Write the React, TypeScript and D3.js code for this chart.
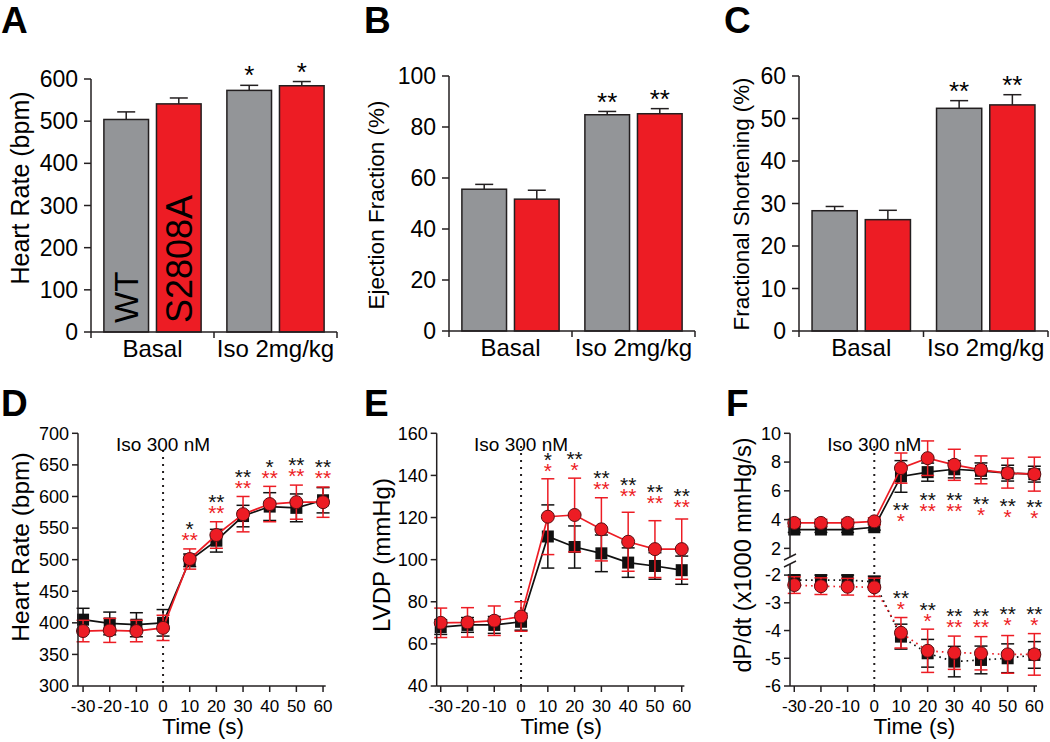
import React from 'react';
import * as d3 from 'd3';

const FONT = '"Liberation Sans", Arial, Helvetica, sans-serif';
const GRAY = '#939598';
const RED = '#ed1c24';
const INK = '#231f20';

// ---------- Bar panels (A, B, C) ----------
const barGroups = ['Basal', 'Iso 2mg/kg'];
const barSeries = ['WT', 'S2808A'];

const hrTicks = [0, 100, 200, 300, 400, 500, 600];
const hrWT = [504, 573];
const hrWTErr = [18, 12];
const hrKI = [541, 584];
const hrKIErr = [14, 10];
const hrStars = ['', '*'];

const efTicks = [0, 20, 40, 60, 80, 100];
const efWT = [55.6, 84.8];
const efWTErr = [1.9, 1.3];
const efKI = [51.7, 85.2];
const efKIErr = [3.5, 2.0];
const efStars = ['', '**'];

const fsTicks = [0, 10, 20, 30, 40, 50, 60];
const fsWT = [28.3, 52.4];
const fsWTErr = [1.0, 1.8];
const fsKI = [26.2, 53.2];
const fsKIErr = [2.2, 2.4];
const fsStars = ['', '**'];

// ---------- Time course panels (D, E, F) ----------
const timePoints = [-30, -20, -10, 0, 10, 20, 30, 40, 50, 60];

const dTicks = [300, 350, 400, 450, 500, 550, 600, 650, 700];
const dWT = [405, 399, 397, 400, 499, 530, 569, 584, 582, 594];
const dWTErr = [18, 18, 19, 21, 10, 18, 17, 22, 22, 20];
const dKI = [387, 388, 387, 392, 501, 539, 572, 588, 591, 591];
const dKIErr = [17, 19, 17, 20, 16, 21, 28, 28, 27, 24];
const dWTStars = ['', '', '', '', '*', '**', '**', '*', '**', '**'];
const dKIStars = ['', '', '', '', '**', '**', '**', '**', '**', '**'];
const dStarRow = [0, 0, 0, 0, 539, 582, 621, 637, 640, 638];

const eTicks = [40, 60, 80, 100, 120, 140, 160];
const eWT = [68, 69, 69, 70.5, 111, 106, 103, 98.6, 97, 95];
const eWTErr = [3.5, 3.5, 4, 4, 15, 10, 8.7, 7, 6.3, 6.7];
const eKI = [70, 70.2, 71, 73, 120.4, 121.2, 114.4, 108.5, 105, 105];
const eKIErr = [7, 7, 7, 7, 18, 17.5, 15, 14, 13.5, 14.3];
const eWTStars = ['', '', '', '', '*', '**', '**', '**', '**', '**'];
const eKIStars = ['', '', '', '', '*', '*', '**', '**', '**', '**'];
const eStarRow = [0, 0, 0, 0, 144.5, 145, 136, 132.6, 129.3, 127.4];

const fUpperTicks = [2, 4, 6, 8, 10];
const fLowerTicks = [-6, -5, -4, -3, -2];
const fUpWT = [3.31, 3.31, 3.31, 3.47, 7.0, 7.3, 7.5, 7.39, 7.23, 7.16];
const fUpWTErr = [0.2, 0.2, 0.2, 0.2, 1.1, 0.63, 0.6, 0.55, 0.55, 0.55];
const fUpKI = [3.77, 3.77, 3.77, 3.88, 7.58, 8.27, 7.81, 7.46, 7.23, 7.16];
const fUpKIErr = [0.25, 0.25, 0.25, 0.25, 1.05, 1.2, 1.08, 0.97, 1.04, 1.18];
const fLoWT = [-2.18, -2.18, -2.18, -2.24, -4.22, -4.82, -5.12, -5.06, -5.0, -4.88];
const fLoWTErr = [0.18, 0.18, 0.18, 0.2, 0.45, 0.5, 0.55, 0.5, 0.52, 0.48];
const fLoKI = [-2.36, -2.4, -2.42, -2.44, -4.08, -4.73, -4.8, -4.82, -4.86, -4.86];
const fLoKIErr = [0.3, 0.3, 0.3, 0.33, 0.55, 0.78, 0.6, 0.6, 0.68, 0.75];
const fUpWTStars = ['', '', '', '', '**', '**', '**', '**', '**', '**'];
const fUpKIStars = ['', '', '', '', '*', '**', '**', '*', '*', '*'];
const fUpStarRow = [0, 0, 0, 0, 4.23, 4.99, 4.99, 4.69, 4.53, 4.46];
const fLoWTStars = ['', '', '', '', '**', '**', '**', '**', '**', '**'];
const fLoKIStars = ['', '', '', '', '*', '*', '**', '**', '*', '*'];
const fLoStarRow = [0, 0, 0, 0, -3.05, -3.48, -3.7, -3.7, -3.62, -3.6];

// ---------- helpers ----------
function Letter({ x, y, t }: any) {
  return (
    <text x={x} y={y} fontFamily={FONT} fontWeight="bold" fontSize={37} fill="#000">
      {t}
    </text>
  );
}

function YLabel({ cx, cy, fs, t }: any) {
  return (
    <text
      transform={`translate(${cx + 0.33 * fs},${cy}) rotate(-90)`}
      textAnchor="middle"
      fontFamily={FONT}
      fontSize={fs}
      fill="#000"
    >
      {t}
    </text>
  );
}

function Star({ x, cy, t, color, fs }: any) {
  if (!t) return null;
  return (
    <text x={x} y={cy + 0.58 * fs} textAnchor="middle" fontFamily={FONT} fontSize={fs} fill={color}>
      {t}
    </text>
  );
}

function BarPanel(p: any) {
  const gx = d3.scaleBand<string>().domain(barGroups).range([p.x0, p.x1]).paddingInner(0).paddingOuter(0);
  const sx = d3
    .scaleBand<string>()
    .domain(barSeries)
    .range([0, gx.bandwidth()])
    .paddingInner(0.151)
    .paddingOuter(0.245);
  const y = d3.scaleLinear().domain([0, p.maxV]).range([p.yBase, p.yTop]);
  const series = [
    { name: 'WT', vals: p.wt, errs: p.wtErr, fill: GRAY, fs: 33 },
    { name: 'S2808A', vals: p.ki, errs: p.kiErr, fill: RED, fs: 36 },
  ];
  const bw = sx.bandwidth();
  return (
    <g>
      <Letter x={p.letterX} y={33} t={p.letter} />
      <YLabel cx={p.labelCx} cy={p.labelCy} fs={p.labelFs} t={p.yLabel} />
      {barGroups.map((g, gi) =>
        series.map((s) => {
          const bx = (gx(g) as number) + (sx(s.name) as number);
          const v = s.vals[gi];
          const top = y(v + s.errs[gi]);
          const cx = bx + bw / 2;
          return (
            <g key={g + s.name}>
              <line x1={cx} x2={cx} y1={y(v)} y2={top} stroke={INK} strokeWidth={1.5} />
              <line x1={cx - 9} x2={cx + 9} y1={top} y2={top} stroke={INK} strokeWidth={1.5} />
              <rect x={bx} y={y(v)} width={bw} height={y(0) - y(v)} fill={s.fill} stroke={INK} strokeWidth={1.5} />
              <Star x={cx} cy={top - 16} t={p.stars[gi]} color="#000" fs={26} />
              {p.inside && gi === 0 ? (
                <text
                  transform={`translate(${cx + 0.358 * s.fs},${y(0) - 9}) rotate(-90)`}
                  fontFamily={FONT}
                  fontSize={s.fs}
                  fill="#000"
                >
                  {s.name}
                </text>
              ) : null}
            </g>
          );
        })
      )}
      <line x1={p.x0} x2={p.x0} y1={p.yTop} y2={p.yBase} stroke={INK} strokeWidth={1.5} />
      <line x1={p.x0} x2={p.x1} y1={p.yBase} y2={p.yBase} stroke={INK} strokeWidth={1.5} />
      {p.ticks.map((t: number) => (
        <g key={t}>
          <line x1={p.x0 - 7} x2={p.x0} y1={y(t)} y2={y(t)} stroke={INK} strokeWidth={1.5} />
          <text x={p.x0 - 13} y={y(t) + 8} textAnchor="end" fontFamily={FONT} fontSize={23} fill="#000">
            {t}
          </text>
        </g>
      ))}
      {[p.x0, (gx(barGroups[1]) as number), p.x1].map((tx: number, i: number) => (
        <line key={i} x1={tx} x2={tx} y1={p.yBase} y2={p.yBase + 6} stroke={INK} strokeWidth={1.5} />
      ))}
      {barGroups.map((g) => (
        <text
          key={g}
          x={(gx(g) as number) + gx.bandwidth() / 2}
          y={p.yBase + 25}
          textAnchor="middle"
          fontFamily={FONT}
          fontSize={24}
          fill="#000"
        >
          {g}
        </text>
      ))}
    </g>
  );
}

function SeriesMarks({ x, y, vals, errs, color, marker, dash }: any) {
  const line = d3
    .line<number>()
    .x((_, i) => x(timePoints[i]))
    .y((d) => y(d));
  return (
    <g>
      <path d={line(vals) || ''} fill="none" stroke={color} strokeWidth={1.7} strokeDasharray={dash} />
      {vals.map((v: number, i: number) => {
        const cx = x(timePoints[i]);
        const t = y(v + errs[i]);
        const b = y(v - errs[i]);
        return (
          <g key={'e' + i}>
            <line x1={cx} x2={cx} y1={t} y2={b} stroke={color} strokeWidth={1.5} />
            <line x1={cx - 6.5} x2={cx + 6.5} y1={t} y2={t} stroke={color} strokeWidth={1.5} />
            <line x1={cx - 6.5} x2={cx + 6.5} y1={b} y2={b} stroke={color} strokeWidth={1.5} />
          </g>
        );
      })}
      {vals.map((v: number, i: number) => {
        const cx = x(timePoints[i]);
        return marker === 'square' ? (
          <rect key={'m' + i} x={cx - 6} y={y(v) - 6} width={12} height={12} fill="#111" />
        ) : (
          <circle key={'m' + i} cx={cx} cy={y(v)} r={6.5} fill={RED} stroke="#5a1014" strokeWidth={1} />
        );
      })}
    </g>
  );
}

function StarRows({ x, y, row, wtStars, kiStars }: any) {
  return (
    <g>
      {timePoints.map((t, i) => {
        if (!wtStars[i] && !kiStars[i]) return null;
        const cy = y(row[i]);
        return (
          <g key={t}>
            <Star x={x(t)} cy={cy - 11} t={wtStars[i]} color="#111" fs={21} />
            <Star x={x(t)} cy={cy} t={kiStars[i]} color={RED} fs={21} />
          </g>
        );
      })}
    </g>
  );
}

function TimeAxis({ x, x0, x1, yBase }: any) {
  const mid = (x(timePoints[0]) + x(timePoints[timePoints.length - 1])) / 2;
  return (
    <g>
      <line x1={x0} x2={x1} y1={yBase} y2={yBase} stroke={INK} strokeWidth={1.5} />
      {timePoints.map((t) => (
        <g key={t}>
          <line x1={x(t)} x2={x(t)} y1={yBase} y2={yBase + 6} stroke={INK} strokeWidth={1.5} />
          <text x={x(t)} y={yBase + 26} textAnchor="middle" fontFamily={FONT} fontSize={17} fill="#000">
            {t}
          </text>
        </g>
      ))}
      <text x={mid} y={yBase + 48} textAnchor="middle" fontFamily={FONT} fontSize={22.5} fill="#000">
        Time (s)
      </text>
    </g>
  );
}

function YTicks({ x0, y, ticks }: any) {
  return (
    <g>
      {ticks.map((t: number) => (
        <g key={t}>
          <line x1={x0 - 6} x2={x0} y1={y(t)} y2={y(t)} stroke={INK} strokeWidth={1.5} />
          <text x={x0 - 9} y={y(t) + 6.3} textAnchor="end" fontFamily={FONT} fontSize={18} fill="#000">
            {t}
          </text>
        </g>
      ))}
    </g>
  );
}

function IsoMarker({ x, yTop, yBase, textY }: any) {
  return (
    <g>
      <line x1={x(0)} x2={x(0)} y1={yTop} y2={yBase} stroke={INK} strokeWidth={2} strokeDasharray="2,5" />
      <text x={x(0)} y={textY} textAnchor="middle" fontFamily={FONT} fontSize={19} fill="#000">
        Iso 300 nM
      </text>
    </g>
  );
}

function LinePanel(p: any) {
  const x = d3.scaleLinear().domain(p.xDomain).range([p.x0, p.x1]);
  const y = d3.scaleLinear().domain(p.yDomain).range([p.yBase, p.yTop]);
  return (
    <g>
      <Letter x={p.letterX} y={416} t={p.letter} />
      <YLabel cx={p.labelCx} cy={p.labelCy} fs={p.labelFs} t={p.yLabel} />
      <IsoMarker x={x} yTop={p.dotTop} yBase={p.yBase} textY={451} />
      <SeriesMarks x={x} y={y} vals={p.wt} errs={p.wtErr} color="#111" marker="square" />
      <SeriesMarks x={x} y={y} vals={p.ki} errs={p.kiErr} color={RED} marker="circle" />
      <StarRows x={x} y={y} row={p.starRow} wtStars={p.wtStars} kiStars={p.kiStars} />
      <line x1={p.x0} x2={p.x0} y1={p.yTop} y2={p.yBase} stroke={INK} strokeWidth={1.5} />
      <YTicks x0={p.x0} y={y} ticks={p.ticks} />
      <TimeAxis x={x} x0={p.x0} x1={p.x1} yBase={p.yBase} />
    </g>
  );
}

function PanelF() {
  const x0 = 790;
  const x1 = 1037;
  const yBase = 686;
  const x = d3.scaleLinear().domain([-31.6, 61]).range([x0, x1]);
  const yU = d3.scaleLinear().domain([1.4, 10]).range([557, 433.3]);
  const yL = d3.scaleLinear().domain([-6, -1.6]).range([686, 564]);
  return (
    <g>
      <Letter x={726} y={416} t="F" />
      <YLabel cx={743} cy={555} fs={23.5} t="dP/dt (x1000 mmHg/s)" />
      <IsoMarker x={x} yTop={446} yBase={yBase} textY={451} />
      <SeriesMarks x={x} y={yU} vals={fUpWT} errs={fUpWTErr} color="#111" marker="square" />
      <SeriesMarks x={x} y={yU} vals={fUpKI} errs={fUpKIErr} color={RED} marker="circle" />
      <SeriesMarks x={x} y={yL} vals={fLoWT} errs={fLoWTErr} color="#111" marker="square" dash="1.6,4" />
      <SeriesMarks x={x} y={yL} vals={fLoKI} errs={fLoKIErr} color={RED} marker="circle" dash="1.6,4" />
      <StarRows x={x} y={yU} row={fUpStarRow} wtStars={fUpWTStars} kiStars={fUpKIStars} />
      <StarRows x={x} y={yL} row={fLoStarRow} wtStars={fLoWTStars} kiStars={fLoKIStars} />
      <line x1={x0} x2={x0} y1={yU(10)} y2={yU(1.4)} stroke={INK} strokeWidth={1.5} />
      <line x1={x0} x2={x0} y1={yL(-1.6)} y2={yBase} stroke={INK} strokeWidth={1.5} />
      <line x1={x0 - 6} x2={x0 + 6} y1={yU(1.4) + 3} y2={yU(1.4) - 3} stroke={INK} strokeWidth={1.5} />
      <line x1={x0 - 6} x2={x0 + 6} y1={yL(-1.6) + 3} y2={yL(-1.6) - 3} stroke={INK} strokeWidth={1.5} />
      <YTicks x0={x0} y={yU} ticks={fUpperTicks} />
      <YTicks x0={x0} y={yL} ticks={fLowerTicks} />
      <TimeAxis x={x} x0={x0} x1={x1} yBase={yBase} />
    </g>
  );
}

export default function App() {
  return (
    <svg
      width={1050}
      height={742}
      viewBox="0 0 1050 742"
      style={{ position: 'absolute', left: 0, top: 0, display: 'block', background: '#fff' }}
    >
      <rect x={0} y={0} width={1050} height={742} fill="#fff" />
      <BarPanel
        letter="A" letterX={1}
        x0={91} x1={337} yBase={332} yTop={79} maxV={600} ticks={hrTicks}
        wt={hrWT} wtErr={hrWTErr} ki={hrKI} kiErr={hrKIErr} stars={hrStars}
        yLabel="Heart Rate (bpm)" labelFs={25} labelCx={21} labelCy={188} inside
      />
      <BarPanel
        letter="B" letterX={364}
        x0={449} x1={695} yBase={331} yTop={76} maxV={100} ticks={efTicks}
        wt={efWT} wtErr={efWTErr} ki={efKI} kiErr={efKIErr} stars={efStars}
        yLabel="Ejection Fraction (%)" labelFs={22.5} labelCx={377} labelCy={205}
      />
      <BarPanel
        letter="C" letterX={724}
        x0={799} x1={1048} yBase={331} yTop={76} maxV={60} ticks={fsTicks}
        wt={fsWT} wtErr={fsWTErr} ki={fsKI} kiErr={fsKIErr} stars={fsStars}
        yLabel="Fractional Shortening (%)" labelFs={22.3} labelCx={742} labelCy={204}
      />
      <LinePanel
        letter="D" letterX={1}
        x0={78} x1={325.7} xDomain={[-31.9, 61]} yBase={686} yTop={433.3} yDomain={[300, 700]} ticks={dTicks}
        wt={dWT} wtErr={dWTErr} ki={dKI} kiErr={dKIErr}
        wtStars={dWTStars} kiStars={dKIStars} starRow={dStarRow}
        dotTop={450}
        yLabel="Heart Rate (bpm)" labelFs={24.5} labelCx={21} labelCy={547}
      />
      <LinePanel
        letter="E" letterX={364}
        x0={436.7} x1={684.4} xDomain={[-31.5, 61]} yBase={686} yTop={433.3} yDomain={[40, 160]} ticks={eTicks}
        wt={eWT} wtErr={eWTErr} ki={eKI} kiErr={eKIErr}
        wtStars={eWTStars} kiStars={eKIStars} starRow={eStarRow}
        dotTop={446}
        yLabel="LVDP (mmHg)" labelFs={24} labelCx={382} labelCy={555}
      />
      <PanelF />
    </svg>
  );
}
